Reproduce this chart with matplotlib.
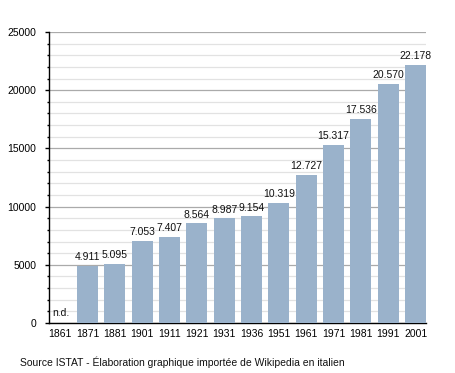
import matplotlib
matplotlib.use("Agg")
import matplotlib.pyplot as plt
from matplotlib.ticker import MultipleLocator

years = ["1861", "1871", "1881", "1901", "1911", "1921", "1931", "1936",
         "1951", "1961", "1971", "1981", "1991", "2001"]
population = [None, 4911, 5095, 7053, 7407, 8564, 8987, 9154,
              10319, 12727, 15317, 17536, 20570, 22178]
value_labels = ["n.d.", "4.911", "5.095", "7.053", "7.407", "8.564", "8.987", "9.154",
                "10.319", "12.727", "15.317", "17.536", "20.570", "22.178"]
source_text = "Source ISTAT - Élaboration graphique importée de Wikipedia en italien"

plt.rcParams['font.family'] = ['Liberation Sans', 'DejaVu Sans']
FS = 7.5
W, H = 455, 373
fig = plt.figure(figsize=(W / 100, H / 100), dpi=100)
ax = fig.add_axes([49 / W, 1 - 323 / H, (426 - 49) / W, (323 - 32) / H])

bar_color = "#9ab2cb"
xs = list(range(len(years)))
for i, v in enumerate(population):
    if v is not None:
        ax.bar(i, v, width=0.77, color=bar_color, zorder=3)
        ax.text(i, v + 300, value_labels[i], ha="center", va="bottom",
                fontsize=FS, color="#111111", zorder=4)
    else:
        ax.text(i - 0.3, 400, value_labels[i], ha="left", va="bottom",
                fontsize=FS, color="#111111", zorder=4)

ax.set_xlim(-0.41, 13.38)
ax.set_ylim(0, 25000)
ax.yaxis.set_major_locator(MultipleLocator(5000))
ax.yaxis.set_minor_locator(MultipleLocator(1000))
ax.grid(axis="y", which="major", color="#aaaaaa", linewidth=0.9, zorder=1)
ax.grid(axis="y", which="minor", color="#e2e2e2", linewidth=0.9, zorder=0)
ax.set_axisbelow(True)

ax.set_xticks(xs)
ax.set_xticklabels(years, fontsize=FS)
ax.tick_params(axis="x", length=0, pad=4)
ax.tick_params(axis="y", which="major", length=3, width=1, labelsize=FS, pad=6)
ax.tick_params(axis="y", which="minor", length=1.5, width=1)
ax.set_yticklabels([str(int(t)) for t in ax.get_yticks()])

for s in ["top", "right"]:
    ax.spines[s].set_visible(False)
ax.spines["left"].set_color("black")
ax.spines["bottom"].set_color("black")
ax.spines["left"].set_linewidth(1)
ax.spines["bottom"].set_linewidth(1)

fig.text(20 / W, 1 - 362 / H, source_text, fontsize=FS, ha="left", va="center",
         color="#111111")

fig.savefig("out.png", dpi=100)
